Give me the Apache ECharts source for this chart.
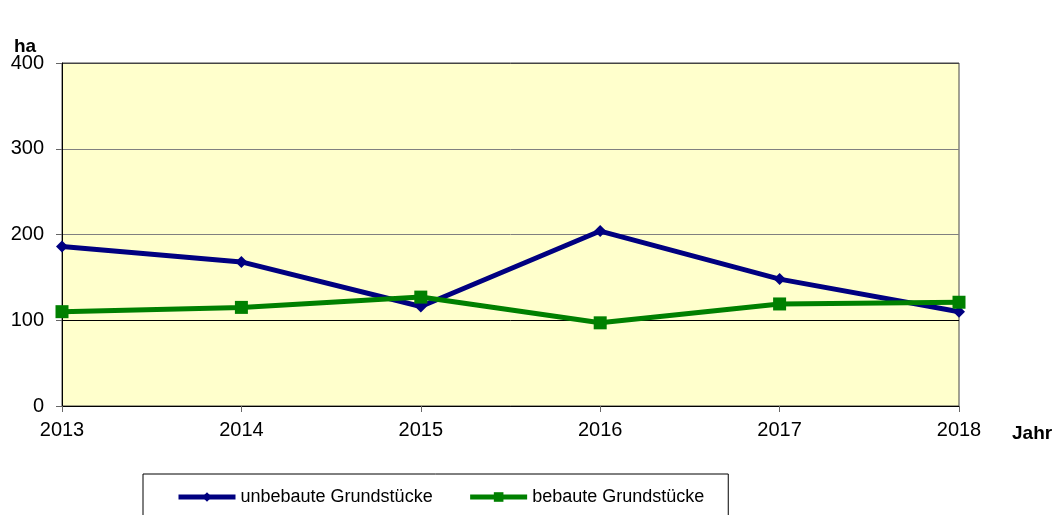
<!DOCTYPE html>
<html>
<head>
<meta charset="utf-8">
<script src="https://cdn.jsdelivr.net/npm/echarts@6/dist/echarts.min.js"></script>
<style>
  html, body { margin: 0; padding: 0; background: #fff; }
  #chart { width: 1061px; height: 515px; }
</style>
</head>
<body>
<div id="chart"></div>
<script>
   var jahre = ['2013', '2014', '2015', '2016', '2017', '2018'];
   var unbebaute = [186, 168, 116, 204, 148, 110];
   var bebaute = [110, 115, 127, 97, 119, 121];
   var yTicks = [0, 100, 200, 300, 400];

   var chart = echarts.init(document.getElementById('chart'));
   var font = 'Arial, "Liberation Sans", sans-serif';

   var option = {
       animation: false,
       textStyle: { fontFamily: font },
       grid: {
           left: 62,
           right: 102,
           top: 63,
           bottom: 109,
           show: true,
           backgroundColor: '#FFFFCC',
           borderColor: '#444',
           borderWidth: 1
       },
       graphic: [{
           type: 'text',
           left: 14,
           top: 37,
           style: { text: 'ha', font: 'bold 19px ' + font, fill: '#000' }
       }, {
           type: 'text',
           left: 1012,
           top: 424,
           style: { text: 'Jahr', font: 'bold 19px ' + font, fill: '#000' }
       }],
       legend: {
           left: 143,
           top: 474,
           padding: [14, 24, 14, 33],
           borderColor: '#000',
           borderWidth: 1,
           itemWidth: 57,
           itemHeight: 12,
           itemGap: 35,
           textStyle: { fontSize: 18, color: '#000', fontFamily: font },
           data: [{
               name: 'unbebaute Grundstücke',
               lineStyle: { width: 5 }
           }, {
               name: 'bebaute Grundstücke',
               lineStyle: { width: 5 }
           }]
       },
       xAxis: {
           type: 'category',
           data: jahre,
           boundaryGap: false,
           axisLine: { show: true, lineStyle: { color: '#000', width: 1 } },
           axisTick: { show: true, length: 6, lineStyle: { color: '#666' } },
           axisLabel: { fontSize: 20, color: '#000', margin: 14, fontFamily: font },
           splitLine: { show: false }
       },
       yAxis: {
           type: 'value',
           min: yTicks[0],
           max: yTicks[yTicks.length - 1],
           interval: 100,
           axisLine: { show: true, lineStyle: { color: '#000', width: 1 } },
           axisTick: { show: true, length: 6, lineStyle: { color: '#666' } },
           axisLabel: { fontSize: 20, color: '#000', margin: 18, fontFamily: font },
           splitLine: {
               show: true,
               lineStyle: { color: ['#000', '#000', '#808080', '#808080', '#444'], width: 1 }
           }
       },
       series: [{
           name: 'unbebaute Grundstücke',
           type: 'line',
           data: unbebaute,
           symbol: 'diamond',
           symbolSize: 12,
           lineStyle: { color: '#000080', width: 5 },
           itemStyle: { color: '#000080' },
           z: 3
       }, {
           name: 'bebaute Grundstücke',
           type: 'line',
           data: bebaute,
           symbol: 'rect',
           symbolSize: 13,
           lineStyle: { color: '#008000', width: 5 },
           itemStyle: { color: '#008000' },
           z: 4
       }]
   };
   chart.setOption(option);
</script>
</body>
</html>
